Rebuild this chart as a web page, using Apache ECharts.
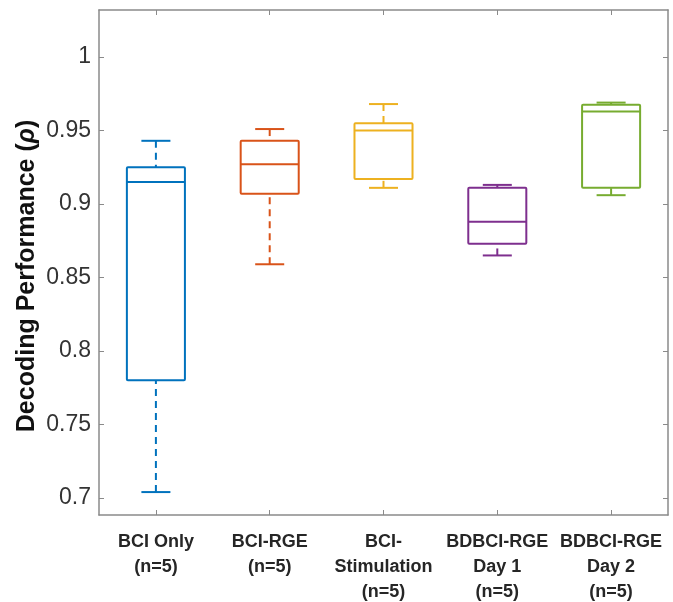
<!DOCTYPE html>
<html>
<head>
<meta charset="utf-8">
<script src="https://cdn.jsdelivr.net/npm/echarts@6/dist/echarts.min.js"></script>
<style>
body { margin: 0; padding: 0; background: #fff; }
#chart { width: 673px; height: 602px; }
</style>
</head>
<body>
<div id="chart"></div>
<script>
// groups and box statistics
const groups = ['BCI Only\n(n=5)', 'BCI-RGE\n(n=5)', 'BCI-\nStimulation\n(n=5)', 'BDBCI-RGE\nDay 1\n(n=5)', 'BDBCI-RGE\nDay 2\n(n=5)'];
const groupPos = [1, 2, 3, 4, 5];
const whiskerLow = [0.704, 0.859, 0.911, 0.865, 0.906];
const q1 = [0.780, 0.907, 0.917, 0.873, 0.911];
const median = [0.915, 0.927, 0.950, 0.888, 0.963];
const q3 = [0.925, 0.943, 0.955, 0.911, 0.9675];
const whiskerHigh = [0.943, 0.951, 0.968, 0.913, 0.969];
const yTicks = [0.7, 0.75, 0.8, 0.85, 0.9, 0.95, 1];

const colors = ['#0072BD', '#D95319', '#EDB120', '#7E2F8E', '#77AC30'];
const frameColor = '#8a8a8a';

const boxData = groupPos.map((x, i) => [x, whiskerLow[i], q1[i], median[i], q3[i], whiskerHigh[i]]);

function renderBox(params, api) {
  const x = api.value(0);
  const lo = api.coord([x, api.value(1)]);
  const b1 = api.coord([x, api.value(2)]);
  const md = api.coord([x, api.value(3)]);
  const b3 = api.coord([x, api.value(4)]);
  const hi = api.coord([x, api.value(5)]);
  const half = api.size([0.51, 0])[0] / 2;
  const cap = half / 2;
  const color = colors[params.dataIndex];
  const solid = { stroke: color, lineWidth: 2, fill: null };
  const dashed = { stroke: color, lineWidth: 2, lineDash: [7, 5] };
  return {
    type: 'group',
    children: [
      { type: 'line', shape: { x1: hi[0], y1: hi[1], x2: b3[0], y2: b3[1] }, style: dashed },
      { type: 'line', shape: { x1: lo[0], y1: lo[1], x2: b1[0], y2: b1[1] }, style: dashed },
      { type: 'line', shape: { x1: hi[0] - cap, y1: hi[1], x2: hi[0] + cap, y2: hi[1] }, style: solid },
      { type: 'line', shape: { x1: lo[0] - cap, y1: lo[1], x2: lo[0] + cap, y2: lo[1] }, style: solid },
      { type: 'rect', shape: { x: b3[0] - half, y: b3[1], width: half * 2, height: b1[1] - b3[1], r: 1 }, style: solid },
      { type: 'line', shape: { x1: md[0] - half, y1: md[1], x2: md[0] + half, y2: md[1] }, style: solid }
    ]
  };
}

const chart = echarts.init(document.getElementById('chart'));
const xRange = { min: 0.5, max: 5.5 };
const yRange = { min: 0.6884, max: 1.032 };

chart.setOption({
  animation: false,
  grid: { left: 99, right: 5, top: 10, bottom: 87, outerBoundsMode: 'none' },
  graphic: [
    {
      type: 'text',
      x: 27,
      y: 276,
      rotation: Math.PI / 2,
      style: {
        text: '{a|Decoding Performance (}{b|ρ}{a|)}',
        align: 'center',
        verticalAlign: 'middle',
        rich: {
          a: { fontFamily: 'Liberation Sans', fontWeight: 'bold', fontSize: 25, fill: '#111' },
          b: { fontFamily: 'Liberation Sans', fontWeight: 'bold', fontStyle: 'italic', fontSize: 25, fill: '#111' }
        }
      }
    }
  ],
  xAxis: [
    {
      type: 'value', position: 'bottom', ...xRange,
      splitLine: { show: false },
      axisLine: { lineStyle: { color: frameColor, width: 1.5 } },
      axisTick: { inside: true, length: 5, lineStyle: { color: frameColor }, customValues: groupPos },
      axisLabel: {
        customValues: groupPos,
        formatter: v => groups[v - 1],
        margin: 15,
        fontFamily: 'Liberation Sans',
        fontWeight: 'bold',
        fontSize: 18,
        lineHeight: 25,
        color: '#262626'
      }
    },
    {
      type: 'value', position: 'top', ...xRange,
      splitLine: { show: false },
      axisLine: { lineStyle: { color: frameColor, width: 1.5 } },
      axisTick: { inside: true, length: 5, lineStyle: { color: frameColor }, customValues: groupPos },
      axisLabel: { show: false }
    }
  ],
  yAxis: [
    {
      type: 'value', position: 'left', ...yRange,
      splitLine: { show: false },
      axisLine: { show: true, lineStyle: { color: frameColor, width: 1.5 } },
      axisTick: { inside: true, length: 5, lineStyle: { color: frameColor }, customValues: yTicks },
      axisLabel: {
        customValues: yTicks,
        formatter: v => String(v),
        margin: 8,
        fontFamily: 'Liberation Sans',
        fontSize: 23,
        color: '#333'
      }
    },
    {
      type: 'value', position: 'right', ...yRange,
      splitLine: { show: false },
      axisLine: { show: true, lineStyle: { color: frameColor, width: 1.5 } },
      axisTick: { inside: true, length: 5, lineStyle: { color: frameColor }, customValues: yTicks },
      axisLabel: { show: false }
    }
  ],
  series: [
    {
      type: 'custom',
      xAxisIndex: 0,
      yAxisIndex: 0,
      renderItem: renderBox,
      data: boxData,
      encode: { x: 0, y: [1, 2, 3, 4, 5] }
    }
  ]
});
</script>
</body>
</html>
